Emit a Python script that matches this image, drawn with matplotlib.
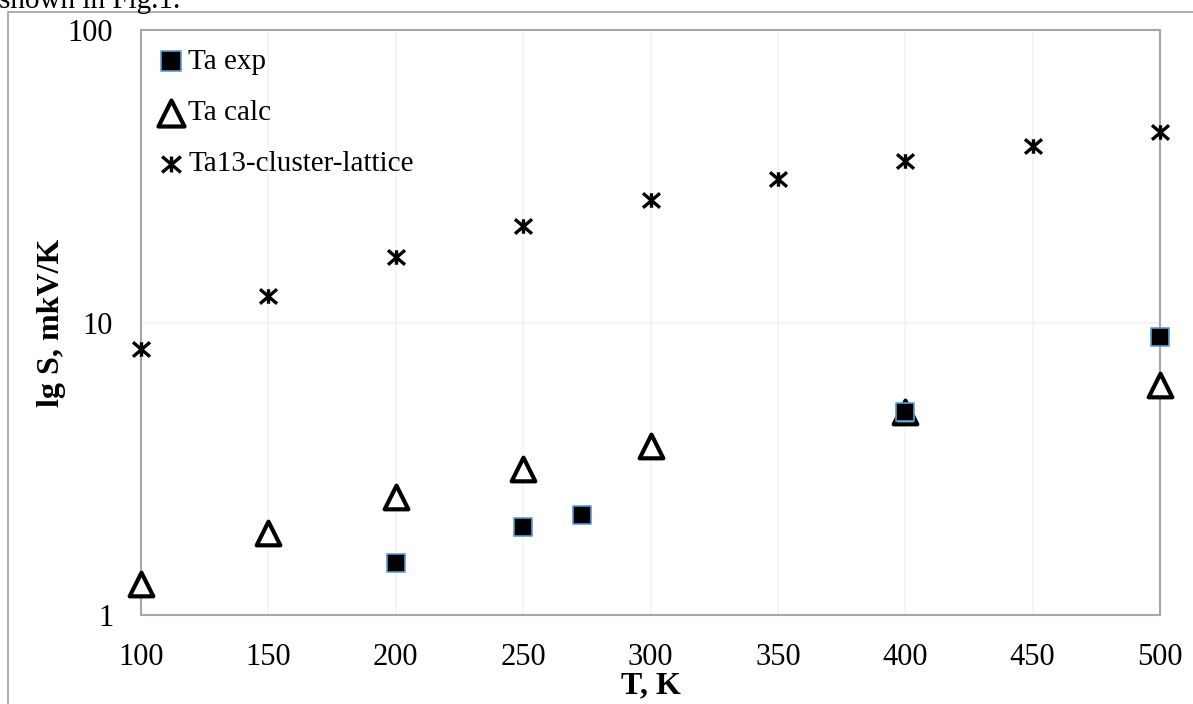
import matplotlib
matplotlib.use("Agg")
import matplotlib.pyplot as plt
from matplotlib.path import Path
from matplotlib.patches import Rectangle
from matplotlib.ticker import FixedLocator, NullLocator

plt.rcParams["font.family"] = ["Liberation Serif", "DejaVu Serif"]

# data
exp_t = [200, 250, 273, 400, 500]
exp_s = [1.5, 2.0, 2.2, 4.95, 8.9]

calc_t = [100, 150, 200, 250, 300, 400, 500]
calc_s = [1.28, 1.9, 2.53, 3.16, 3.78, 4.95, 6.1]

cluster_t = [100, 150, 200, 250, 300, 350, 400, 450, 500]
cluster_s = [8.1, 12.3, 16.7, 21.4, 26.2, 30.9, 35.7, 40.1, 44.8]

x_ticks = [100, 150, 200, 250, 300, 350, 400, 450, 500]
y_ticks = [1, 10, 100]

# Excel-like star marker: X with vertical bar
star = Path(
    [(-1, -0.85), (1, 0.85), (-1, 0.85), (1, -0.85), (0, -0.85), (0, 0.85)],
    [Path.MOVETO, Path.LINETO, Path.MOVETO, Path.LINETO, Path.MOVETO, Path.LINETO],
)

fig = plt.figure(figsize=(11.93, 7.04), dpi=100)
ax = fig.add_axes([141 / 1193, 1 - 615 / 704, (1160 - 141) / 1193, (615 - 30) / 704])

# page fragment above the chart and the chart frame
fig.text(-1 / 1193, 1 - 1 / 704, "shown in Fig.1.", fontsize=21, va="center", ha="left")
fig.patches.append(
    Rectangle((8 / 1193, -0.05), 1.2, 1 - 12 / 704 + 0.05, transform=fig.transFigure,
              fill=False, edgecolor="#a6a6a6", linewidth=1.3)
)

ax.scatter(exp_t, exp_s, marker="s", s=170, facecolor="black", edgecolor="#5b9bd5",
           linewidth=1.2, label="Ta exp", zorder=4, clip_on=False)
ax.scatter(calc_t, calc_s, marker="^", s=290, facecolor="white", edgecolor="black",
           linewidth=3, label="Ta calc", zorder=3, clip_on=False)
ax.scatter(cluster_t, cluster_s, marker=star, s=150, color="black",
           linewidth=2.4, label="Ta13-cluster-lattice", zorder=3, clip_on=False)

ax.set_yscale("log")
ax.set_xlim(100, 500)
ax.set_ylim(1, 100)
ax.xaxis.set_major_locator(FixedLocator(x_ticks))
ax.yaxis.set_major_locator(FixedLocator(y_ticks))
ax.yaxis.set_minor_locator(NullLocator())
ax.set_yticklabels([str(v) for v in y_ticks])
ax.tick_params(axis="both", length=0, labelsize=22)
ax.tick_params(axis="x", pad=20)
ax.tick_params(axis="y", pad=20)

ax.grid(True, color="#f2f2f2", linewidth=1.1)
ax.set_axisbelow(True)
for sp in ax.spines.values():
    sp.set_color("#a6a6a6")
    sp.set_linewidth(1.5)

ax.set_xlabel("T, K", fontsize=23, fontweight="bold", labelpad=0)
ax.set_ylabel("lg S, mkV/K", fontsize=23, fontweight="bold", labelpad=1)

leg = ax.legend(loc="upper left", frameon=False, fontsize=21, handletextpad=0.1,
                handlelength=1.0, labelspacing=0.85, borderaxespad=0.3,
                bbox_to_anchor=(-0.005, 1.003), markerscale=1.1)

fig.savefig("out.png", dpi=100)
